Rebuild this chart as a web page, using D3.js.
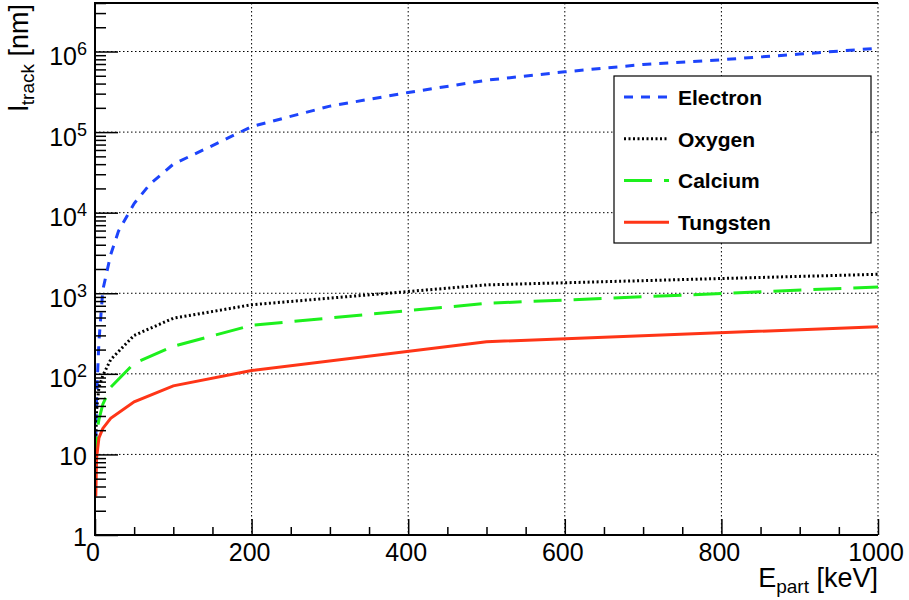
<!DOCTYPE html>
<html>
<head>
<meta charset="utf-8">
<script src="https://cdn.jsdelivr.net/npm/d3@7"></script>
<style>
  body { margin: 0; background: #fff; }
  text { font-family: "Liberation Sans", Arial, Helvetica, sans-serif; }
</style>
</head>
<body>
<div id="chart"></div>
<script>
// Track length vs particle energy
const energyElectron = [1, 2, 5, 10, 20, 30, 50, 70, 100, 150, 200, 300, 400, 500, 600, 700, 800, 900, 1000];
const electron = [15, 50, 250, 1100, 3000, 5900, 13000, 22500, 40000, 68000, 117000, 210000, 310000, 440000, 560000, 690000, 790000, 930000, 1100000];

const energy = [1, 2, 5, 10, 20, 50, 100, 200, 500, 1000];
const oxygen   = [15, 35, 68, 95, 150, 300, 490, 720, 1270, 1720];
const calcium  = [7.5, 18, 27, 42, 68, 135, 220, 400, 750, 1200];
const tungsten = [3, 9, 16, 21, 28, 45, 71, 110, 250, 385];

const seriesNames = ["Electron", "Oxygen", "Calcium", "Tungsten"];

const xMajor = [0, 200, 400, 600, 800, 1000];
const yMajor = [1, 10, 100, 1000, 10000, 100000, 1000000];

const width = 909, height = 600;
const plotL = 95, plotR = 878, plotT = 3, plotB = 535;

const fontTick = 25;     // tick label size
const fontTitle = 27;    // axis title size

const svg = d3.select("#chart").append("svg")
    .attr("width", width)
    .attr("height", height);

const x = d3.scaleLinear().domain([0, 1000]).range([plotL, plotR]);
const y = d3.scaleLog().domain([1, 4e6]).range([plotB, plotT]);

// Grid (dotted)
const grid = svg.append("g")
    .attr("stroke", "#000")
    .attr("stroke-width", 1)
    .attr("stroke-dasharray", "1.5,2.5");
grid.selectAll("line.gy")
    .data(yMajor.slice(1))
    .enter().append("line")
    .attr("x1", plotL).attr("x2", plotR)
    .attr("y1", d => y(d)).attr("y2", d => y(d));
grid.selectAll("line.gx")
    .data(xMajor.slice(1))
    .enter().append("line")
    .attr("y1", plotT).attr("y2", plotB)
    .attr("x1", d => x(d)).attr("x2", d => x(d));

// Curves
const styles = {
    Electron: { color: "#1d44fb", dash: "9,8" },
    Oxygen:   { color: "#000000", dash: "2,2.5" },
    Calcium:  { color: "#1df01d", dash: "28,12" },
    Tungsten: { color: "#ff3517", dash: null }
};

const curves = [
    { name: "Electron", xs: energyElectron, ys: electron },
    { name: "Oxygen",   xs: energy, ys: oxygen },
    { name: "Calcium",  xs: energy, ys: calcium },
    { name: "Tungsten", xs: energy, ys: tungsten }
];

const line = d3.line()
    .x(d => x(d[0]))
    .y(d => y(d[1]));

svg.append("g")
    .selectAll("path")
    .data(curves)
    .enter().append("path")
    .attr("d", c => line(c.xs.map((e, i) => [e, c.ys[i]])))
    .attr("fill", "none")
    .attr("stroke", c => styles[c.name].color)
    .attr("stroke-width", 3)
    .attr("stroke-dasharray", c => styles[c.name].dash);

// Axes: ticks point inwards, like ROOT
let yMinor = [];
for (let p = 0; p <= 6; p++) {
    for (let k = 2; k <= 9; k++) {
        const v = k * Math.pow(10, p);
        if (v <= 4e6) yMinor.push(v);
    }
}
let xMinor = d3.range(0, 1001, 50).filter(v => v % 200 != 0);

function ticksOnly(g) {
    g.select(".domain").remove();
    g.selectAll(".tick line").attr("stroke", "#000").attr("stroke-width", 1.5);
}

svg.append("g")
    .attr("transform", `translate(${plotL},0)`)
    .call(d3.axisLeft(y).tickValues(yMajor).tickSize(-23).tickFormat(""))
    .call(ticksOnly);
svg.append("g")
    .attr("transform", `translate(${plotL},0)`)
    .call(d3.axisLeft(y).tickValues(yMinor).tickSize(-11).tickFormat(""))
    .call(ticksOnly);
svg.append("g")
    .attr("transform", `translate(0,${plotB})`)
    .call(d3.axisBottom(x).tickValues(xMajor).tickSize(-16).tickFormat(""))
    .call(ticksOnly);
svg.append("g")
    .attr("transform", `translate(0,${plotB})`)
    .call(d3.axisBottom(x).tickValues(xMinor).tickSize(-8).tickFormat(""))
    .call(ticksOnly);

// Frame lines
const frame = svg.append("g").attr("stroke", "#000").attr("stroke-width", 2);
frame.append("line").attr("x1", plotL).attr("x2", plotL).attr("y1", plotT).attr("y2", plotB);
frame.append("line").attr("x1", plotL - 1).attr("x2", plotR).attr("y1", plotB).attr("y2", plotB);
frame.append("line").attr("x1", plotL - 1).attr("x2", plotR).attr("y1", plotT).attr("y2", plotT);

// X tick labels
svg.append("g")
    .selectAll("text")
    .data(xMajor)
    .enter().append("text")
    .attr("x", d => x(d) - 2)
    .attr("y", 561)
    .attr("text-anchor", "middle")
    .attr("font-size", fontTick)
    .text(d => d);

// Y tick labels: 1, 10, 10^2 ...
const yLab = svg.append("g")
    .selectAll("text")
    .data(yMajor)
    .enter().append("text")
    .attr("x", 87)
    .attr("y", d => y(d) + (d > 10 ? 13.5 : 11))
    .attr("text-anchor", "end")
    .attr("font-size", fontTick);
yLab.each(function(d) {
    const t = d3.select(this);
    const p = Math.round(Math.log10(d));
    if (p < 2) {
        t.text(d);
    } else {
        t.append("tspan").text("10");
        t.append("tspan").attr("font-size", 18).attr("dy", -10).text(p);
    }
});

// Axis titles
const xt = svg.append("text")
    .attr("x", plotR)
    .attr("y", 587)
    .attr("text-anchor", "end")
    .attr("font-size", fontTitle);
xt.append("tspan").text("E");
xt.append("tspan").attr("font-size", 19).attr("dy", 6).text("part");
xt.append("tspan").attr("dy", -6).text(" [keV]");

const yt = svg.append("text")
    .attr("transform", "translate(27.5,4) rotate(-90)")
    .attr("text-anchor", "end")
    .attr("font-size", fontTitle);
yt.append("tspan").text("l");
yt.append("tspan").attr("font-size", 19).attr("dy", 6).text("track");
yt.append("tspan").attr("dy", -6).text(" [nm]");

// Legend
const lgX = 614, lgY = 76, lgW = 257, lgH = 167;
const legend = svg.append("g");
legend.append("rect")
    .attr("x", lgX).attr("y", lgY)
    .attr("width", lgW).attr("height", lgH)
    .attr("fill", "#fff")
    .attr("stroke", "#000")
    .attr("stroke-width", 1.2);

const rowH = lgH / seriesNames.length;
const entry = legend.selectAll("g.entry")
    .data(seriesNames)
    .enter().append("g")
    .attr("transform", (d, i) => `translate(0,${lgY + rowH * (i + 0.5)})`);
entry.append("line")
    .attr("x1", 624).attr("x2", 669)
    .attr("y1", 0).attr("y2", 0)
    .attr("stroke", d => styles[d].color)
    .attr("stroke-width", 3)
    .attr("stroke-dasharray", d => styles[d].dash);
entry.append("text")
    .attr("x", 678)
    .attr("y", 8)
    .attr("font-size", 21)
    .attr("font-weight", "bold")
    .text(d => d);
</script>
</body>
</html>
